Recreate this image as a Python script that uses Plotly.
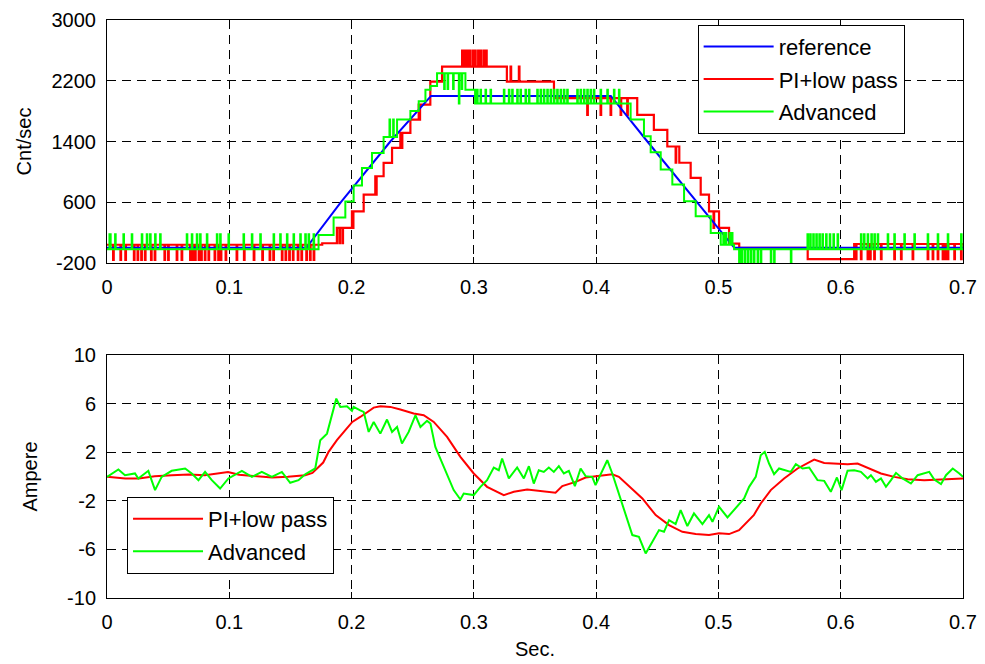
import bisect
import plotly.graph_objects as go

# ---------------- data ----------------
# top: speed in Cnt/sec
ref_t = [0, 0.163, 0.1913, 0.2317, 0.265, 0.412, 0.4419, 0.4828, 0.513, 0.7]
ref_v = [0, 0, 600, 1400, 2000, 2000, 1400, 600, 0, 0]

pi_knot_t = [0, 0.176, 0.188, 0.2003, 0.2099, 0.2194, 0.2262, 0.2331, 0.2399, 0.2481,
             0.2549, 0.2644, 0.274, 0.3122, 0.327, 0.3655, 0.4336, 0.4472, 0.4582,
             0.468, 0.4773, 0.4855, 0.4923, 0.5005, 0.5087, 0.517, 0.573, 0.611]
pi_knot_v = [40, 60, 262, 481, 701, 942, 1118, 1316, 1513, 1689,
             1886, 2188, 2385, 2385, 2188, 1970, 1750, 1553, 1334,
             1120, 920, 700, 480, 262, 56, 0, -150, 50]
pi_spike_t = [0.005, 0.011, 0.015, 0.022, 0.025, 0.028, 0.031, 0.036, 0.039, 0.047,
              0.050, 0.057, 0.061, 0.068, 0.070, 0.072, 0.075, 0.077, 0.080, 0.083,
              0.088, 0.091, 0.093, 0.097, 0.106, 0.112, 0.120, 0.127, 0.133, 0.136,
              0.143, 0.146, 0.149, 0.152, 0.156, 0.159, 0.163, 0.166, 0.169,
              0.190, 0.1925, 0.201, 0.220, 0.241, 0.2555,
              0.2904, 0.2925, 0.2945, 0.2965, 0.2990, 0.3010, 0.3035, 0.3055, 0.3080, 0.3100,
              0.3300, 0.3368,
              0.3927, 0.4036, 0.4118, 0.4200, 0.4254, 0.4650, 0.4960,
              0.6124, 0.6165, 0.6220, 0.6240, 0.6274, 0.6329, 0.6438, 0.6493, 0.6588,
              0.6711, 0.6752, 0.6793, 0.6834, 0.6855, 0.6875, 0.6929, 0.6984]
pi_spike_v = [-160] * 39 + [60, 60, 262, 701, 1316, 1689] + [2596] * 10 + [2385, 2385] \
             + [1750] * 5 + [1120, 262] + [-150] * 17

adv_knot_t = [0, 0.173, 0.1853, 0.1949, 0.2017, 0.2085, 0.2167, 0.2262, 0.2372, 0.2481,
              0.2549, 0.2604, 0.2644, 0.2699, 0.2931, 0.3010, 0.4282, 0.4391, 0.4446,
              0.4528, 0.4623, 0.4719, 0.4814, 0.4937, 0.5019, 0.5128]
adv_knot_v = [-20, 170, 400, 610, 820, 1050, 1250, 1460, 1690, 1800,
              1930, 2080, 2130, 2300, 2080, 1900, 1690, 1469, 1258,
              1030, 833, 613, 416, 196, 40, -20]
adv_spike_t = [0.002, 0.0025, 0.0066, 0.0134, 0.0202, 0.0284, 0.0325, 0.0352, 0.0393, 0.0434,
               0.0652, 0.0693, 0.0734, 0.0761, 0.0816, 0.0898, 0.0925, 0.0993, 0.1116, 0.1184,
               0.1253, 0.1362, 0.1416, 0.1471, 0.1525, 0.1580, 0.1621, 0.1648, 0.1689,
               0.2310, 0.2340,
               0.2757, 0.2785, 0.2830, 0.2877, 0.2900,
               0.3026, 0.3054, 0.3095, 0.3136, 0.3245, 0.3286, 0.3313, 0.3354, 0.3381, 0.3422,
               0.3450, 0.3518, 0.3545, 0.3572, 0.3600, 0.3627, 0.3654, 0.3681, 0.3709, 0.3736,
               0.3763, 0.3845, 0.3872, 0.3900, 0.3927, 0.3954, 0.3981, 0.4036, 0.4091, 0.4145,
               0.4186,
               0.5040, 0.5060, 0.5090, 0.5110,
               0.5169, 0.5190, 0.5215, 0.5240, 0.5265, 0.5290, 0.5320, 0.5346, 0.5428, 0.5455,
               0.5592,
               0.5728, 0.5750, 0.5775, 0.5800, 0.5825, 0.5850, 0.5880, 0.5910, 0.5940, 0.5974,
               0.6165, 0.6190, 0.6220, 0.6250, 0.6275, 0.6302, 0.6384, 0.6438, 0.6520, 0.6602,
               0.6711, 0.6793, 0.6875, 0.6984]
adv_spike_v = [180] * 29 + [1690, 1690] + [2090, 2090, 2090, 1900, 2090] + [2080] * 31 \
              + [196] * 4 + [-190] * 11 + [180] * 24

# bottom: current in Ampere
pi_cur_t = [0.000, 0.015, 0.026, 0.039, 0.053, 0.067, 0.080, 0.091, 0.099, 0.108,
            0.121, 0.135, 0.148, 0.162, 0.168, 0.173, 0.1768, 0.1812, 0.1880, 0.1949,
            0.2006, 0.2071, 0.2126, 0.2181, 0.2235, 0.2317, 0.2399, 0.2508, 0.2590, 0.2672,
            0.2781, 0.2890, 0.2999, 0.3108, 0.3245, 0.3327, 0.3436, 0.3529, 0.3613, 0.3668,
            0.3723, 0.3832, 0.3914, 0.4009, 0.4132, 0.4186, 0.4268, 0.4378, 0.4487, 0.4596,
            0.4705, 0.4814, 0.4923, 0.5005, 0.5087, 0.5169, 0.5289, 0.5346, 0.5428, 0.5537,
            0.5647, 0.5783, 0.5865, 0.5974, 0.6056, 0.6138, 0.6220, 0.6329, 0.6438, 0.6547,
            0.6683, 0.6793, 0.6902, 0.7000]
pi_cur_v = [-0.03, -0.16, -0.16, 0.03, 0.11, 0.16, 0.11, 0.25, 0.36, 0.14,
            0.05, -0.08, -0.03, 0.11, 0.30, 0.74, 1.15, 2.03, 2.99, 3.81,
            4.49, 4.90, 5.32, 5.67, 5.78, 5.73, 5.51, 5.18, 5.04, 4.49,
            3.26, 1.62, 0.25, -0.85, -1.53, -1.26, -1.07, -1.18, -1.26, -1.34,
            -0.79, -0.44, -0.08, 0.03, 0.19, -0.03, -0.79, -1.81, -3.18, -4.00,
            -4.55, -4.74, -4.82, -4.68, -4.74, -4.41, -3.18, -2.22, -1.12, -0.16,
            0.66, 1.40, 1.12, 1.07, 1.01, 1.07, 0.74, 0.25, -0.03, -0.22,
            -0.30, -0.25, -0.25, -0.16]

adv_cur_t = [0.000, 0.0093, 0.0147, 0.0229, 0.0256, 0.0338, 0.0393, 0.0447, 0.0529, 0.0639,
             0.0693, 0.0748, 0.0802, 0.0857, 0.0925, 0.0993, 0.1103, 0.1185, 0.1266, 0.1348,
             0.1430, 0.1498, 0.1566, 0.1621, 0.1703, 0.1744, 0.1799, 0.1853, 0.1875, 0.1908,
             0.1962, 0.2003, 0.2017, 0.2071, 0.2099, 0.2140, 0.2181, 0.2235, 0.2290, 0.2331,
             0.2372, 0.2412, 0.2467, 0.2522, 0.2563, 0.2617, 0.2645, 0.2685, 0.2781, 0.2835,
             0.2890, 0.2917, 0.2999, 0.3054, 0.3108, 0.3163, 0.3204, 0.3231, 0.3286, 0.3354,
             0.3409, 0.3450, 0.3490, 0.3531, 0.3572, 0.3613, 0.3654, 0.3695, 0.3736, 0.3777,
             0.3826, 0.3873, 0.3914, 0.3968, 0.3995, 0.4050, 0.4091, 0.4132, 0.4214, 0.4296,
             0.4350, 0.4405, 0.4460, 0.4514, 0.4555, 0.4596, 0.4650, 0.4691, 0.4746, 0.4800,
             0.4869, 0.4923, 0.4951, 0.5005, 0.5074, 0.5142, 0.5210, 0.5251, 0.5305, 0.5346,
             0.5379, 0.5414, 0.5455, 0.5496, 0.5551, 0.5592, 0.5633, 0.5688, 0.5742, 0.5810,
             0.5865, 0.5919, 0.5969, 0.6007, 0.6056, 0.6110, 0.6165, 0.6220, 0.6247, 0.6288,
             0.6329, 0.6370, 0.6411, 0.6452, 0.6506, 0.6574, 0.6629, 0.6683, 0.6724, 0.6765,
             0.6820, 0.6861, 0.6916, 0.6970, 0.7000]
adv_cur_v = [-0.03, 0.58, 0.11, 0.25, -0.16, 0.47, -1.12, -0.03, 0.47, 0.66,
             0.25, -0.30, 0.38, -0.30, -0.99, -0.16, 0.47, -0.03, 0.38, -0.03,
             0.38, -0.52, -0.30, 0.19, 0.66, 2.99, 3.53, 5.45, 6.41, 5.73,
             5.78, 5.40, 5.73, 5.45, 5.32, 3.67, 4.49, 3.53, 4.69, 3.67,
             4.08, 2.71, 3.67, 5.04, 4.08, 4.58, 4.36, 2.44, 0.11, -1.12,
             -1.89, -1.40, -1.53, -0.85, -0.30, 0.74, 0.52, 1.48, -0.16, 0.74,
             -0.16, 0.85, -0.58, 0.52, 0.38, 0.74, 0.38, 0.85, 0.25, 0.47,
             -0.79, 0.66, 0.03, -0.03, -0.71, 0.52, 1.34, 0.25, -2.22, -4.82,
             -4.96, -6.33, -5.37, -4.41, -4.55, -3.59, -3.92, -2.77, -4.08, -3.04,
             -3.92, -3.18, -3.73, -2.49, -3.37, -2.63, -1.81, -0.85, -0.03, 1.75,
             2.03, 1.07, 0.19, 0.66, 0.52, 0.38, 1.01, 0.66, 0.74, -0.30,
             -0.36, -1.26, -0.08, -1.12, 0.47, 0.52, 0.38, -0.16, 0.11, -0.44,
             -0.16, -0.85, -0.30, 0.30, -0.16, -0.58, 0.11, 0.25, 0.38, -0.25,
             -0.63, 0.11, 0.66, 0.25, -0.03]

x_ticks = [0, 0.1, 0.2, 0.3, 0.4, 0.5, 0.6, 0.7]
x_tick_text = ["0", "0.1", "0.2", "0.3", "0.4", "0.5", "0.6", "0.7"]
y1_ticks = [-200, 600, 1400, 2200, 3000]
y1_tick_text = ["-200", "600", "1400", "2200", "3000"]
y2_ticks = [-10, -6, -2, 2, 6, 10]
y2_tick_text = ["-10", "-6", "-2", "2", "6", "10"]

T_END = 0.7
SPIKE_W = 0.0005


def stepped(kt, kv, st, sv, w=SPIKE_W, t_end=T_END):
    """Combine a step level sequence with one-sample spikes."""
    times = sorted(set(kt) | set(st) | {round(s + w, 6) for s in st} | {t_end})
    xs, ys = [], []
    for t in times:
        if t > t_end:
            continue
        val = kv[bisect.bisect_right(kt, t) - 1]
        for s, v in zip(st, sv):
            if s <= t < s + w - 1e-9:
                val = v
        xs.append(t)
        ys.append(val)
    return xs, ys


pi_x, pi_y = stepped(pi_knot_t, pi_knot_v, pi_spike_t, pi_spike_v)
adv_x, adv_y = stepped(adv_knot_t, adv_knot_v, adv_spike_t, adv_spike_v)

BLUE = "rgb(0,0,255)"
RED = "rgb(255,0,0)"
GREEN = "rgb(0,255,0)"
FONT = "Liberation Sans, Arial, sans-serif"

fig = go.Figure()
# top plot
fig.add_trace(go.Scatter(x=pi_x, y=pi_y, mode="lines", name="PI+low pass",
                         line=dict(color=RED, width=2.2, shape="hv"),
                         xaxis="x", yaxis="y", legend="legend", legendrank=2,
                         legendgroup="a2"))
fig.add_trace(go.Scatter(x=ref_t, y=ref_v, mode="lines", name="reference",
                         line=dict(color=BLUE, width=2),
                         xaxis="x", yaxis="y", legend="legend", legendrank=1,
                         legendgroup="a1"))
fig.add_trace(go.Scatter(x=adv_x, y=adv_y, mode="lines", name="Advanced",
                         line=dict(color=GREEN, width=2, shape="hv"),
                         xaxis="x", yaxis="y", legend="legend", legendrank=3,
                         legendgroup="a3"))
# bottom plot
fig.add_trace(go.Scatter(x=pi_cur_t, y=pi_cur_v, mode="lines", name="PI+low pass",
                         line=dict(color=RED, width=2),
                         xaxis="x2", yaxis="y2", legend="legend2", legendrank=1,
                         legendgroup="b1"))
fig.add_trace(go.Scatter(x=adv_cur_t, y=adv_cur_v, mode="lines", name="Advanced",
                         line=dict(color=GREEN, width=2),
                         xaxis="x2", yaxis="y2", legend="legend2", legendrank=2,
                         legendgroup="b2"))

axis_common = dict(showline=True, linecolor="black", linewidth=1, mirror="ticks",
                   ticks="inside", ticklen=6, tickcolor="black", automargin=False,
                   showgrid=True, gridcolor="black", gridwidth=1, griddash="9px,6px",
                   zeroline=False, tickfont=dict(family=FONT, size=20, color="black"))

legend_common = dict(xanchor="left", yanchor="top", bgcolor="white",
                     bordercolor="black", borderwidth=1,
                     font=dict(family=FONT, size=22),
                     traceorder="grouped", tracegroupgap=1, itemwidth=70)

fig.update_layout(
    width=985, height=664,
    margin=dict(l=107, r=22, t=20, b=66, autoexpand=False),
    paper_bgcolor="white", plot_bgcolor="white",
    font=dict(family=FONT, color="black"),
    xaxis=dict(domain=[0, 1], anchor="y", range=[0, 0.7], tickvals=x_ticks,
               ticktext=x_tick_text, ticklabelstandoff=6, **axis_common),
    yaxis=dict(domain=[0.5796, 1], anchor="x", range=[-200, 3000], tickvals=y1_ticks,
               ticktext=y1_tick_text, ticklabelstandoff=6,
               title=dict(text="Cnt/sec", font=dict(family=FONT, size=20), standoff=14),
               **axis_common),
    xaxis2=dict(domain=[0, 1], anchor="y2", range=[0, 0.7], tickvals=x_ticks,
                ticktext=x_tick_text, ticklabelstandoff=6,
                title=dict(text="Sec.", font=dict(family=FONT, size=20), standoff=9),
                **axis_common),
    yaxis2=dict(domain=[0, 0.4204], anchor="x2", range=[-10, 10], tickvals=y2_ticks,
                ticktext=y2_tick_text, ticklabelstandoff=6,
                title=dict(text="Ampere", font=dict(family=FONT, size=20), standoff=24),
                **axis_common),
    legend=dict(x=0.690, y=0.992, **legend_common),
    legend2=dict(x=0.0234, y=0.175, **legend_common),
    showlegend=True,
)

fig.write_html("out.html", config={"displayModeBar": False},
               post_script="document.body.style.margin='0';document.body.style.overflow='hidden';")
